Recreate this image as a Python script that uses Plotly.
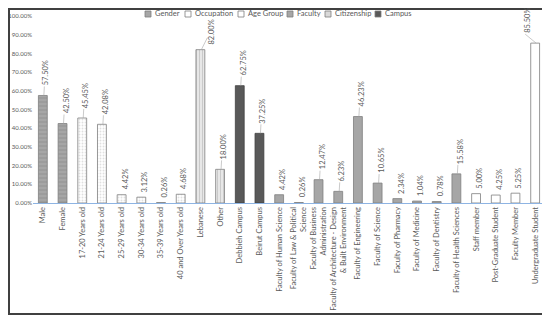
import plotly.graph_objects as go

categories = ["Male", "Female", "17-20 Years old", "21-24 Years old", "25-29 Years old",
              "30-34 Years old", "35-39 Years old", "40 and Over Years old", "Lebanese", "Other",
              "Debbieh Campus", "Beirut Campus", "Faculty of Human Science",
              "Faculty of Law & Political<br>Science", "Faculty of Business<br>Administration",
              "Faculty of Architecture - Design<br>& Built Environment", "Faculty of Engineering",
              "Faculty of Science", "Faculty of Pharmacy", "Faculty of Medicine",
              "Faculty of Dentistry", "Faculty of Health Sciences", "Staff member",
              "Post-Graduate Student", "Faculty Member", "Undergraduate Student"]

gender_x = categories[0:2]
gender_y = [57.50, 42.50]
age_x = categories[2:8]
age_y = [45.45, 42.08, 4.42, 3.12, 0.26, 4.68]
citizen_x = categories[8:10]
citizen_y = [82.00, 18.00]
campus_x = categories[10:12]
campus_y = [62.75, 37.25]
faculty_x = categories[12:22]
faculty_y = [4.42, 0.26, 12.47, 6.23, 46.23, 10.65, 2.34, 1.04, 0.78, 15.58]
occupation_x = categories[22:26]
occupation_y = [5.00, 4.25, 5.25, 85.50]

FONT = "Lato"
TXT = "#595959"

series = [
    ("Gender", gender_x, gender_y, "#a6a6a6", dict(color="#a6a6a6", line=dict(color="#7f7f7f", width=0.8),
                                       pattern=dict(shape="-", fgcolor="#7f7f7f", bgcolor="#a6a6a6", size=4, solidity=0.25))),
    ("Occupation", occupation_x, occupation_y, "white", dict(color="white", line=dict(color="#7f7f7f", width=0.8))),
    ("Age Group", age_x, age_y, "white", dict(color="white", line=dict(color="#7f7f7f", width=0.8),
                                     pattern=dict(shape=".", fgcolor="#bfbfbf", bgcolor="white", size=3, solidity=0.3))),
    ("Faculty", faculty_x, faculty_y, "#a6a6a6", dict(color="#a6a6a6", line=dict(color="#7f7f7f", width=0.8))),
    ("Citizenship", citizen_x, citizen_y, "#d9d9d9", dict(color="#d9d9d9", line=dict(color="#7f7f7f", width=0.8),
                                             pattern=dict(shape="|", fgcolor="#a6a6a6", bgcolor="#e7e7e7", size=3, solidity=0.3))),
    ("Campus", campus_x, campus_y, "#595959", dict(color="#595959", line=dict(color="#404040", width=0.8))),
]

# the page body has an 8px default margin, so layout pixels are reference pixels - 8
OFF = 8
W, H = 550 - OFF, 319 - OFF
L, R, T, B = 33 - OFF, 5, 16 - OFF, 319 - 203
PW, PH = W - L - R, H - T - B

def px_x(p):
    return (p - OFF - L) / PW

def px_y(p):
    return (H - B - (p - OFF)) / PH

# label offsets (px) for the few labels that the reference moves aside
label_shift = {"Undergraduate Student": (-8, 8), "Lebanese": (11, 3)}

fig = go.Figure()
annotations = []
shapes = [dict(type="rect", xref="paper", yref="paper",
               x0=px_x(9), x1=px_x(546), y0=px_y(314), y1=px_y(9),
               line=dict(color="#404040", width=2), fillcolor="rgba(0,0,0,0)")]

for name, xs, ys, swatch, marker in series:
    fig.add_trace(go.Bar(name=name, x=xs, y=[v / 100 for v in ys], width=0.45,
                         marker=marker, showlegend=False, hoverinfo="x+y"))
    for cx, v in zip(xs, ys):
        leader = v >= 6
        xs_px, gap_px = label_shift.get(cx, (3.5, 8 if leader else 3))
        annotations.append(dict(x=cx, y=v / 100, xref="x", yref="y", text=f"{v:.2f}%",
                                textangle=-90, showarrow=False, xanchor="center", yanchor="bottom",
                                xshift=xs_px, yshift=gap_px,
                                font=dict(family=FONT, size=7.5, color=TXT)))
        if leader:
            shapes.append(dict(type="line", xref="x", yref="y", x0=cx, x1=cx,
                               x0shift=0.05, x1shift=(xs_px - 4 if xs_px > 5 else xs_px - 2) / PW * 26,
                               y0=v / 100, y1=v / 100 + (gap_px + 1 if gap_px > 4 else 12) / PH,
                               line=dict(color="#a6a6a6", width=0.6)))

# compact legend (swatch + text), placed as in the reference
legend_items = ["Gender", "Occupation", "Age Group", "Faculty", "Citizenship", "Campus"]
legend_px = [145, 185, 238, 287, 325, 375]
swatches = {s[0]: s[3] for s in series}
for nm, lx in zip(legend_items, legend_px):
    shapes.append(dict(type="rect", xref="paper", yref="paper",
                       x0=px_x(lx), x1=px_x(lx + 6), y0=px_y(17), y1=px_y(11),
                       line=dict(color="#7f7f7f", width=0.8), fillcolor=swatches[nm]))
    annotations.append(dict(x=px_x(lx + 7.5), y=px_y(14), xref="paper", yref="paper", text=nm,
                            showarrow=False, xanchor="left", yanchor="middle",
                            font=dict(family=FONT, size=7.5, color=TXT)))

fig.update_layout(
    width=W, height=H,
    margin=dict(l=L, r=R, t=T, b=B),
    barmode="overlay",
    paper_bgcolor="white", plot_bgcolor="white",
    font=dict(family=FONT, color=TXT),
    showlegend=False,
    xaxis=dict(categoryorder="array", categoryarray=categories, range=[-0.5, 25.5],
               tickangle=-90, tickfont=dict(family=FONT, size=7.5, color=TXT), automargin=False,
               showline=True, linecolor="#8eb4e3", linewidth=1, ticks="", showgrid=False),
    yaxis=dict(range=[0, 1.0], dtick=0.1, tickformat=".2%", showgrid=False, zeroline=False,
               automargin=False, tickfont=dict(family=FONT, size=6, color=TXT), ticks="", showline=False),
    shapes=shapes,
    annotations=annotations,
)

fig.write_html("out.html")
